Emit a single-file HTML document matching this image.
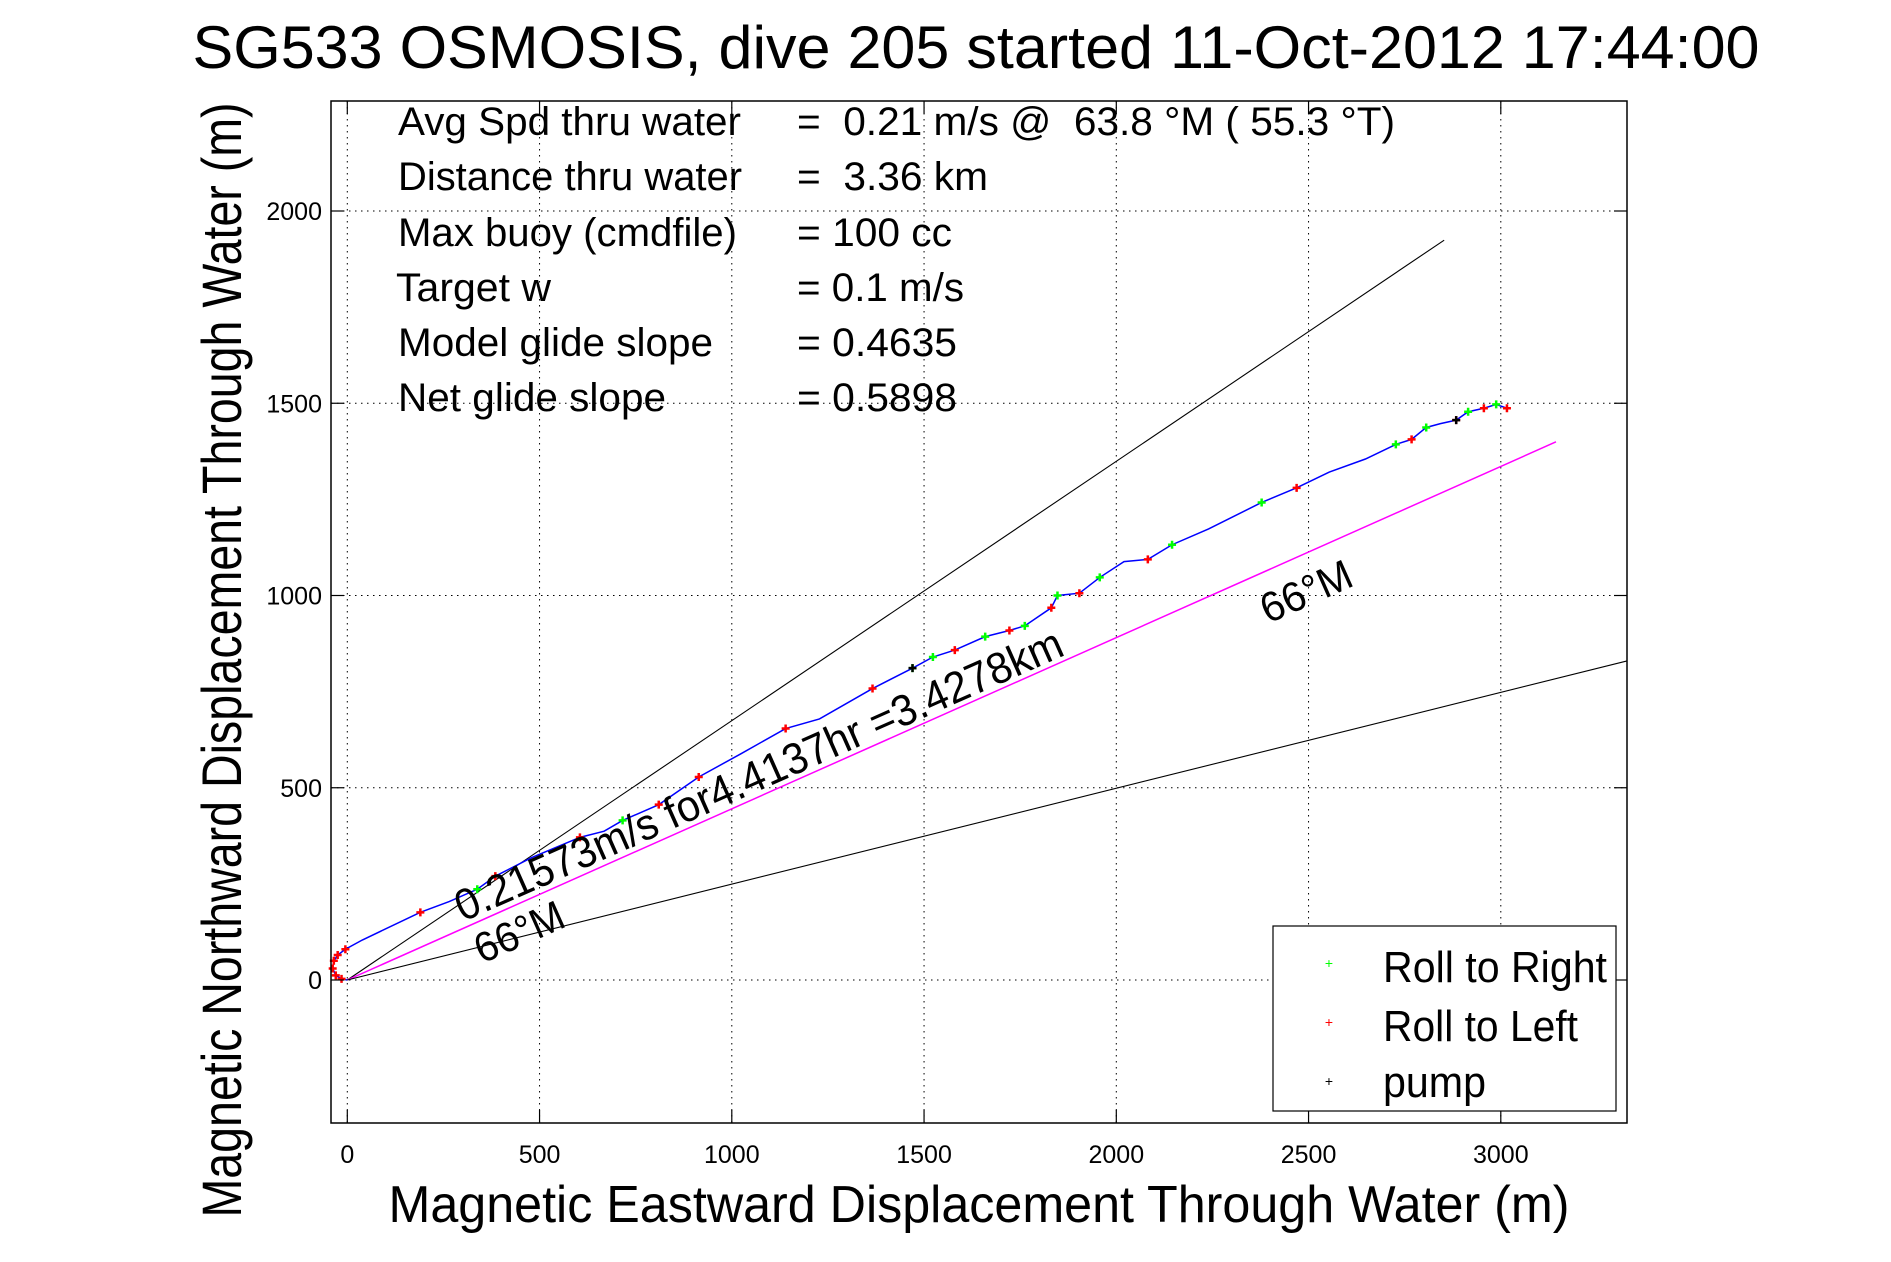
<!DOCTYPE html>
<html><head><meta charset="utf-8"><style>
html,body{margin:0;padding:0;background:#fff;}
svg{display:block;font-family:"Liberation Sans",sans-serif;}
</style></head><body>
<svg id="chart" width="1891" height="1262" viewBox="0 0 1891 1262" xmlns="http://www.w3.org/2000/svg">
<rect x="0" y="0" width="1891" height="1262" fill="#fff"/>
<g id="grid"></g>
<g id="lines"></g>
<g id="track"></g>
<rect x="331" y="101" width="1296" height="1022" fill="none" stroke="#000" stroke-width="1.5"/>
<g id="ticks"></g>
<text x="976" y="68" font-size="60" text-anchor="middle" textLength="1567" lengthAdjust="spacingAndGlyphs">SG533 OSMOSIS, dive 205 started 11-Oct-2012 17:44:00</text>
<text x="979" y="1222" font-size="52" text-anchor="middle" textLength="1181" lengthAdjust="spacingAndGlyphs">Magnetic Eastward Displacement Through Water (m)</text>
<text transform="translate(241,660) rotate(-90)" font-size="56" text-anchor="middle" textLength="1115" lengthAdjust="spacingAndGlyphs">Magnetic Northward Displacement Through Water (m)</text>
<g font-size="40">
<text x="398" y="135" textLength="343" lengthAdjust="spacingAndGlyphs">Avg Spd thru water</text>
<text x="398" y="190" textLength="344" lengthAdjust="spacingAndGlyphs">Distance thru water</text>
<text x="398" y="246" textLength="339" lengthAdjust="spacingAndGlyphs">Max buoy (cmdfile)</text>
<text x="396" y="301" textLength="155" lengthAdjust="spacingAndGlyphs">Target w</text>
<text x="398" y="356" textLength="315" lengthAdjust="spacingAndGlyphs">Model glide slope</text>
<text x="398" y="411" textLength="268" lengthAdjust="spacingAndGlyphs">Net glide slope</text>
<text x="797" y="135" textLength="598" lengthAdjust="spacingAndGlyphs" xml:space="preserve">=  0.21 m/s @  63.8 °M ( 55.3 °T)</text>
<text x="797" y="190" textLength="191" lengthAdjust="spacingAndGlyphs" xml:space="preserve">=  3.36 km</text>
<text x="797" y="246" textLength="155" lengthAdjust="spacingAndGlyphs">= 100 cc</text>
<text x="797" y="301" textLength="167" lengthAdjust="spacingAndGlyphs">= 0.1 m/s</text>
<text x="797" y="356" textLength="160" lengthAdjust="spacingAndGlyphs">= 0.4635</text>
<text x="797" y="411" textLength="160" lengthAdjust="spacingAndGlyphs">= 0.5898</text>
</g>
<text transform="translate(463,922) rotate(-23.9)" font-size="44" textLength="660" lengthAdjust="spacingAndGlyphs">0.21573m/s for4.4137hr =3.4278km</text>
<text transform="translate(482,964) rotate(-23.9)" font-size="42" textLength="94" lengthAdjust="spacingAndGlyphs">66°M</text>
<text transform="translate(1268,624) rotate(-23.9)" font-size="42" textLength="96" lengthAdjust="spacingAndGlyphs">66°M</text>
<g>
<rect x="1273" y="926" width="343" height="185" fill="#fff" stroke="#000" stroke-width="1.2"/>
<text x="1329" y="968" font-size="14" fill="#00ff00" text-anchor="middle">+</text>
<text x="1383" y="982" font-size="44" textLength="224" lengthAdjust="spacingAndGlyphs">Roll to Right</text>
<text x="1329" y="1027" font-size="14" fill="#ff0000" text-anchor="middle">+</text>
<text x="1383" y="1041" font-size="44" textLength="195" lengthAdjust="spacingAndGlyphs">Roll to Left</text>
<text x="1329" y="1086" font-size="14" fill="#000" text-anchor="middle">+</text>
<text x="1383" y="1097" font-size="44" textLength="103" lengthAdjust="spacingAndGlyphs">pump</text>
</g>
</svg>
<script>
const xTicks=[0,500,1000,1500,2000,2500,3000];
const yTicks=[0,500,1000,1500,2000];
const trackX=[0,-15,-30,-38,-35,-25,-5,39,190,265,338,385,479,605,668,716,810,914,1023,1140,1228,1366,1470,1523,1580,1659,1722,1762,1831,1847,1904,1957,2020,2082,2145,2240,2378,2469,2554,2648,2727,2768,2806,2843,2884,2915,2956,2988,3016];
const trackY=[0,3,12,30,50,65,80,104,176,204,236,270,318,371,387,415,456,528,588,654,679,758,811,840,858,893,909,921,968,1000,1006,1047,1088,1094,1132,1173,1242,1280,1321,1355,1393,1406,1437,1447,1456,1478,1487,1497,1487];
const rightIdx=[10,15,22,23,25,27,29,31,34,36,40,42,45,47];
const leftIdx=[1,2,3,4,5,6,8,11,13,16,17,19,21,24,26,28,30,33,37,41,44,46,48];
const pumpIdx=[22,44];
const headings=[56,66,76];
const lineLengths=[3441,3441,3600];
const X0=347.3,Y0=980,S=0.3845;
const xs=v=>X0+v*S, ys=v=>Y0-v*S;
const NS='http://www.w3.org/2000/svg';
function mk(t,a,p){const e=document.createElementNS(NS,t);for(const k in a)e.setAttribute(k,a[k]);p.appendChild(e);return e;}
const grid=document.getElementById('grid'),ticks=document.getElementById('ticks');
xTicks.forEach(v=>{const x=xs(v);
 const g=mk('line',{x1:x,y1:101,x2:x,y2:1123,stroke:'#000','stroke-width':1,'stroke-dasharray':'1.5 4.5'},grid);
 
 const t1=mk('line',{x1:x,y1:1123,x2:x,y2:1110,stroke:'#000','stroke-width':1.2},ticks);
 
 const t2=mk('line',{x1:x,y1:101,x2:x,y2:114,stroke:'#000','stroke-width':1.2},ticks);
 
 const l=mk('text',{x:x,y:1163,'font-size':25,'text-anchor':'middle'},ticks);l.textContent=v;
 });
yTicks.forEach(v=>{const y=ys(v);
 const g=mk('line',{x1:331,y1:y,x2:1627,y2:y,stroke:'#000','stroke-width':1,'stroke-dasharray':'1.5 4.5'},grid);
 
 const t1=mk('line',{x1:331,y1:y,x2:344,y2:y,stroke:'#000','stroke-width':1.2},ticks);
 
 const t2=mk('line',{x1:1627,y1:y,x2:1614,y2:y,stroke:'#000','stroke-width':1.2},ticks);
 
 const l=mk('text',{x:322,y:y+9,'font-size':25,'text-anchor':'end'},ticks);l.textContent=v;
 });
const lines=document.getElementById('lines');
headings.forEach((h,i)=>{const r=h*Math.PI/180,L=lineLengths[i];
 let ex=L*Math.sin(r),ey=L*Math.cos(r);
 if(xs(ex)>1627){const f=(1627-X0)/S/ex;ex*=f;ey*=f;}
 const mag=i===1;
 const e=mk('line',{x1:xs(0),y1:ys(0),x2:xs(ex),y2:ys(ey),stroke:mag?'#ff00ff':'#000','stroke-width':mag?1.5:1.1},lines);
 
 });
const track=document.getElementById('track');
const p=mk('polyline',{points:trackX.map((v,i)=>xs(v)+','+ys(trackY[i])).join(' '),fill:'none',stroke:'#0000ff','stroke-width':1.5},track);


function marks(idx,col,name){idx.forEach(i=>{const cx=xs(trackX[i]),cy=ys(trackY[i]);
 const m=mk('path',{d:`M${cx-4},${cy}H${cx+4}M${cx},${cy-4}V${cy+4}`,stroke:col,'stroke-width':2.5},track);
 
 });}
marks(rightIdx,'#00ff00','roll-right-marker');
marks(leftIdx,'#ff0000','roll-left-marker');
marks(pumpIdx,'#000','pump-marker');
</script>
</body></html>
